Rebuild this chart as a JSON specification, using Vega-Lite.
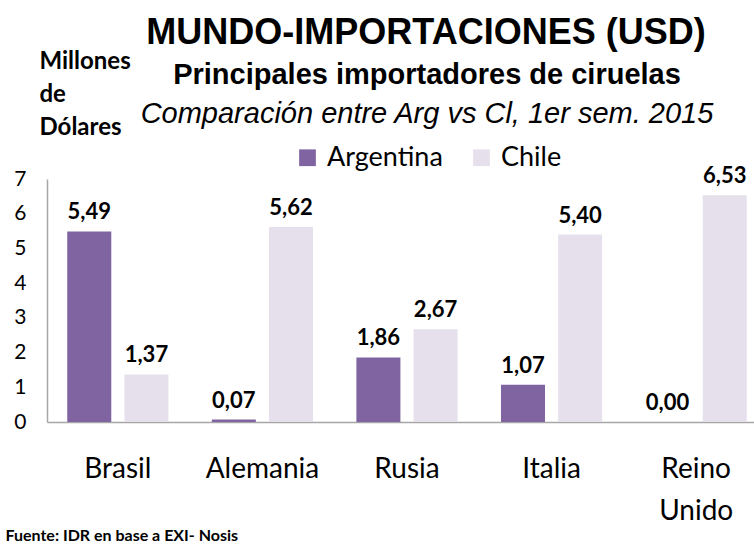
{
  "$schema": "https://vega.github.io/schema/vega-lite/v6.json",
  "padding": {"left": 5, "top": 15, "right": 0, "bottom": 0},
  "background": "white",
  "title": {
    "text": "MUNDO-IMPORTACIONES (USD)",
    "font": "Liberation Sans",
    "fontWeight": "bold",
    "fontSize": 36,
    "color": "black",
    "anchor": "middle",
    "dx": 40,
    "offset": -3
  },
  "datasets": {
    "imp": [
      {"pais": "Brasil", "serie": "Argentina", "valor": 5.49},
      {"pais": "Brasil", "serie": "Chile", "valor": 1.37},
      {"pais": "Alemania", "serie": "Argentina", "valor": 0.07},
      {"pais": "Alemania", "serie": "Chile", "valor": 5.62},
      {"pais": "Rusia", "serie": "Argentina", "valor": 1.86},
      {"pais": "Rusia", "serie": "Chile", "valor": 2.67},
      {"pais": "Italia", "serie": "Argentina", "valor": 1.07},
      {"pais": "Italia", "serie": "Chile", "valor": 5.40},
      {"pais": "Reino Unido", "serie": "Argentina", "valor": 0.00},
      {"pais": "Reino Unido", "serie": "Chile", "valor": 6.53}
    ]
  },
  "vconcat": [
    {
      "width": 720,
      "height": 243,
      "title": {
        "text": "Principales importadores de ciruelas",
        "font": "Liberation Sans",
        "fontWeight": "bold",
        "fontSize": 29,
        "color": "black",
        "subtitle": "Comparación entre Arg vs Cl, 1er sem. 2015",
        "subtitleFont": "Liberation Sans",
        "subtitleFontSize": 29,
        "subtitleFontStyle": "italic",
        "subtitleColor": "black",
        "subtitlePadding": 10,
        "anchor": "middle",
        "frame": "group",
        "dx": 20,
        "offset": -80
      },
      "data": {"name": "imp"},
      "encoding": {
        "x": {
          "field": "pais",
          "type": "nominal",
          "sort": ["Brasil", "Alemania", "Rusia", "Italia", "Reino Unido"],
          "scale": {"paddingInner": 0.3, "paddingOuter": 0.14},
          "axis": {
            "labelAngle": 0,
            "labelFont": "Lato",
            "labelFontSize": 28,
            "labelColor": "black",
            "labelPadding": 33,
            "labelLineHeight": 42,
            "labelExpr": "datum.label == 'Reino Unido' ? ['Reino', 'Unido'] : datum.label",
            "ticks": false,
            "domain": true,
            "domainColor": "#A6A6A6",
            "domainWidth": 1.5,
            "title": "Fuente: IDR en base a EXI- Nosis",
            "titleFont": "Lato",
            "titleFontWeight": "bold",
            "titleFontSize": 16,
            "titleColor": "black",
            "titleAnchor": "start",
            "titleAlign": "left",
            "titleBaseline": "alphabetic",
            "titleX": -42,
            "titleY": 118
          }
        },
        "xOffset": {
          "field": "serie",
          "type": "nominal",
          "sort": ["Argentina", "Chile"],
          "scale": {"paddingInner": 0.23}
        },
        "y": {
          "field": "valor",
          "type": "quantitative",
          "scale": {"domain": [0, 7], "nice": false},
          "axis": {
            "values": [0, 1, 2, 3, 4, 5, 6, 7],
            "format": "d",
            "grid": false,
            "ticks": false,
            "domain": true,
            "domainColor": "#A6A6A6",
            "domainWidth": 1.5,
            "labelFont": "Lato",
            "labelFontSize": 21,
            "labelColor": "black",
            "labelPadding": 21,
            "title": ["Millones", "de", "Dólares"],
            "titleFont": "Lato",
            "titleFontWeight": "bold",
            "titleFontSize": 24,
            "titleColor": "black",
            "titleAngle": 0,
            "titleAlign": "left",
            "titleBaseline": "alphabetic",
            "titleLineHeight": 33,
            "titleX": -8,
            "titleY": -111
          }
        }
      },
      "layer": [
        {
          "mark": {"type": "bar"},
          "encoding": {
            "color": {
              "field": "serie",
              "type": "nominal",
              "sort": ["Argentina", "Chile"],
              "scale": {"domain": ["Argentina", "Chile"], "range": ["#8064A2", "#E6E0EC"]},
              "legend": {
                "title": null,
                "orient": "none",
                "direction": "horizontal",
                "legendX": 247,
                "legendY": -35,
                "symbolType": "square",
                "symbolSize": 280,
                "symbolStrokeWidth": 0,
                "labelFont": "Lato",
                "labelFontSize": 27,
                "labelColor": "black",
                "labelOffset": 6,
                "columnPadding": 25
              }
            }
          }
        },
        {
          "mark": {"type": "text", "baseline": "alphabetic", "dy": -12, "font": "Lato", "fontWeight": "bold", "fontSize": 22, "color": "black"},
          "encoding": {
            "text": {"field": "valor", "type": "quantitative", "format": ".2f"}
          }
        }
      ]
    }
  ],
  "config": {
    "view": {"stroke": null},
    "locale": {"number": {"decimal": ",", "thousands": ".", "grouping": [3], "currency": ["$", ""]}}
  }
}
